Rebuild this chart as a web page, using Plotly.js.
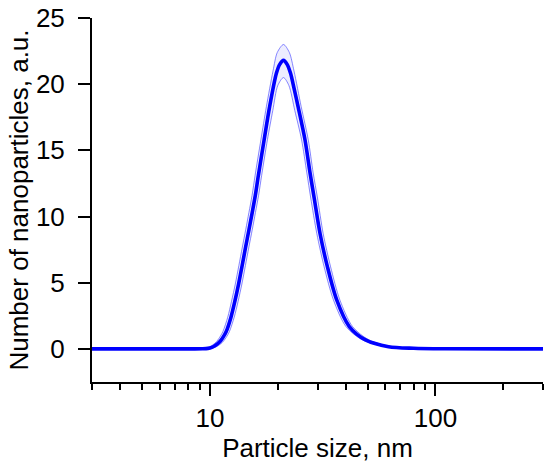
<!DOCTYPE html>
<html>
<head>
<meta charset="utf-8">
<script src="https://cdn.plot.ly/plotly-3.0.1.min.js"></script>
<style>
html,body{margin:0;padding:0;background:#fff;}
#chart{width:550px;height:468px;}
</style>
</head>
<body>
<div id="chart"></div>
<script>
// Particle size (nm) and number of nanoparticles (a.u.)
const sizeMain = [3, 7, 8.5, 9.3, 9.8, 10.2, 10.6, 11.0, 11.4, 11.8, 12.4, 12.9, 13.4, 13.9, 14.4, 14.9, 15.4, 15.9, 16.4, 17.4, 18.4, 19.7, 20.4, 21.2, 22.0, 22.8, 23.6, 24.6, 26.4, 27.8, 29.0, 30.8, 33.2, 36.5, 41.5, 49, 62, 80, 110, 300];
const countMain = [0, 0, 0, 0.01, 0.04, 0.12, 0.28, 0.5, 0.85, 1.3, 2.4, 3.6, 4.9, 6.3, 7.7, 9.0, 10.3, 11.6, 13.1, 15.8, 18.3, 20.8, 21.5, 21.8, 21.5, 20.8, 19.7, 18.3, 15.8, 13.3, 11.4, 8.7, 6.2, 3.7, 1.69, 0.68, 0.17, 0.05, 0.01, 0];

const sizeUpper = [3, 7, 8.2, 9.0, 9.48, 9.86, 10.25, 10.64, 11.02, 11.41, 12.0, 12.47, 12.96, 13.44, 13.93, 14.41, 14.89, 15.38, 15.86, 16.83, 17.8, 19.05, 19.9, 21.2, 22.5, 23.6, 25.4, 27.3, 28.7, 30.0, 31.8, 34.3, 37.7, 42.9, 50.7, 64, 83, 114, 300];
const countUpper = [0, 0, 0, 0.01, 0.04, 0.12, 0.28, 0.5, 0.85, 1.3, 2.4, 3.6, 4.9, 6.3, 7.7, 9.0, 10.3, 11.6, 13.1, 15.8, 18.3, 21.0, 22.4, 23.0, 22.4, 21.0, 18.3, 15.8, 13.3, 11.4, 8.7, 6.2, 3.7, 1.69, 0.68, 0.17, 0.05, 0.01, 0];

const sizeLower = [3, 7, 8.8, 9.6, 10.13, 10.55, 10.96, 11.37, 11.79, 12.2, 12.82, 13.34, 13.86, 14.37, 14.89, 15.41, 15.92, 16.44, 16.96, 17.99, 19.0, 20.0, 21.2, 22.4, 23.8, 25.5, 26.9, 28.0, 29.8, 32.1, 35.3, 40.1, 47.4, 60, 77, 106, 300];
const countLower = [0, 0, 0, 0.01, 0.04, 0.12, 0.28, 0.5, 0.85, 1.3, 2.4, 3.6, 4.9, 6.3, 7.7, 9.0, 10.3, 11.6, 13.1, 15.8, 18.0, 19.9, 20.5, 19.9, 18.0, 15.8, 13.3, 11.4, 8.7, 6.2, 3.7, 1.69, 0.68, 0.17, 0.05, 0.01, 0];

const xMajorTicks = [10, 100];
const xMajorLabels = ['10', '100'];
const xMinorTicks = [3, 4, 5, 6, 7, 8, 9, 20, 30, 40, 50, 60, 70, 80, 90, 200, 300];
const yTicks = [0, 5, 10, 15, 20, 25];
const yTickLabels = ['0', '5', '10', '15', '20', '25'];

const xTitle = 'Particle size, nm';
const yTitle = 'Number of nanoparticles, a.u.';

const traces = [
  {x: sizeLower, y: countLower, type: 'scatter', mode: 'lines',
   line: {color: 'rgba(40,40,255,0.55)', width: 1, shape: 'spline', smoothing: 0.8},
   hoverinfo: 'skip', showlegend: false},
  {x: sizeUpper, y: countUpper, type: 'scatter', mode: 'lines', fill: 'tonexty',
   fillcolor: 'rgba(0,0,255,0.07)',
   line: {color: 'rgba(40,40,255,0.55)', width: 1, shape: 'spline', smoothing: 0.8},
   hoverinfo: 'skip', showlegend: false},
  {x: sizeMain, y: countMain, type: 'scatter', mode: 'lines',
   line: {color: '#0000ff', width: 3.6, shape: 'spline', smoothing: 0.8},
   showlegend: false}
];

const font = {family: '"Liberation Sans", Arial, sans-serif', color: '#000'};

const layout = {
  width: 550, height: 468,
  margin: {l: 92, r: 7, t: 18, b: 86, pad: 0},
  paper_bgcolor: '#fff', plot_bgcolor: '#fff',
  font: Object.assign({size: 26}, font),
  showlegend: false,
  xaxis: {
    type: 'log',
    range: [Math.log10(3), Math.log10(300)],
    showline: true, linecolor: '#000', linewidth: 2,
    showgrid: false, zeroline: false,
    tickmode: 'array', tickvals: xMajorTicks, ticktext: xMajorLabels,
    ticks: 'outside', ticklen: 12, tickwidth: 2, tickcolor: '#000',
    tickfont: Object.assign({size: 26}, font),
    minor: {tickmode: 'array', tickvals: xMinorTicks, ticks: 'outside', ticklen: 6, tickwidth: 2, tickcolor: '#000', showgrid: false},
    title: {text: xTitle, font: Object.assign({size: 26}, font), standoff: 2},
    automargin: false
  },
  yaxis: {
    range: [-2.5, 25],
    showline: true, linecolor: '#000', linewidth: 2,
    showgrid: false, zeroline: false,
    tickmode: 'array', tickvals: yTicks, ticktext: yTickLabels,
    ticks: 'outside', ticklen: 12, tickwidth: 2, tickcolor: '#000',
    ticklabelposition: 'outside',
    ticklabelstandoff: 8,
    tickfont: Object.assign({size: 26}, font),
    title: {text: yTitle, font: Object.assign({size: 26}, font), standoff: 0},
    automargin: false
  }
};

Plotly.newPlot('chart', traces, layout, {staticPlot: true, displayModeBar: false});
</script>
</body>
</html>
